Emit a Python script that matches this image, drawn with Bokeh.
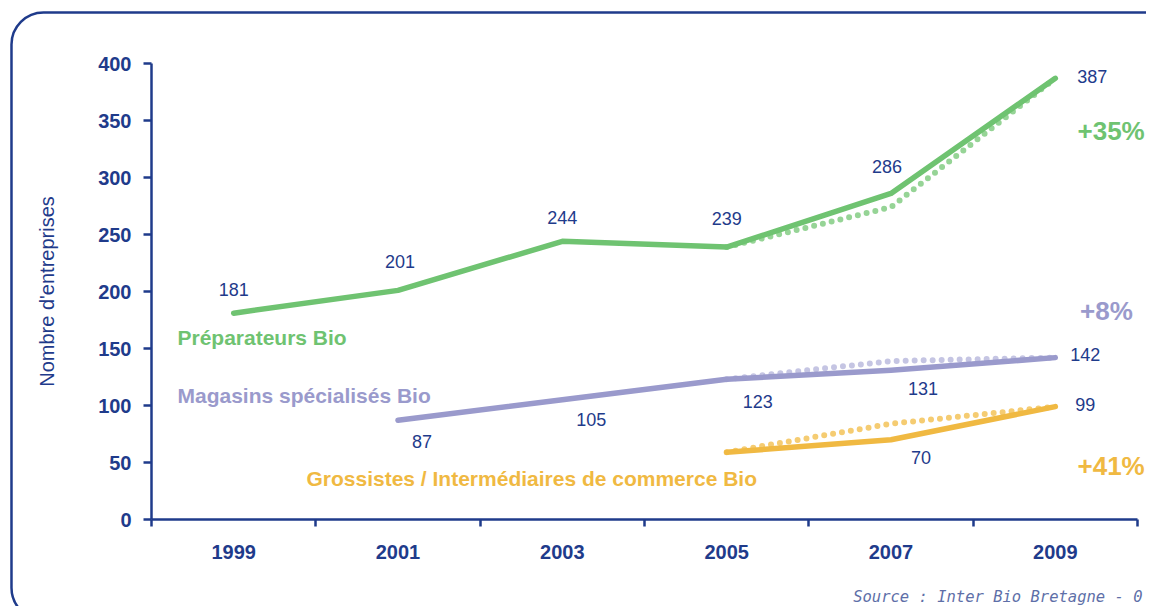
from bokeh.plotting import figure
from bokeh.models import (Range1d, FixedTicker, ColumnDataSource, Label, BoxAnnotation)
from bokeh.core.properties import value
from bokeh.embed import file_html
from bokeh.resources import INLINE

# ---------------- data ----------------
years = ["1999", "2001", "2003", "2005", "2007", "2009"]

prep_years = ["1999", "2001", "2003", "2005", "2007", "2009"]
prep_values = [181, 201, 244, 239, 286, 387]
prep_trend_years = ["2005", "2007", "2009"]
prep_trend_values = [239, 274, 387]

mag_years = ["2001", "2003", "2005", "2007", "2009"]
mag_values = [87, 105, 123, 131, 142]
mag_trend_years = ["2005", "2007", "2009"]
mag_trend_values = [123, 139, 142]

gros_years = ["2005", "2007", "2009"]
gros_values = [59, 70, 99]
gros_labels = ["", "70", "99"]
gros_trend_years = ["2005", "2007", "2009"]
gros_trend_values = [59, 84, 99]

y_ticks = [0, 50, 100, 150, 200, 250, 300, 350, 400]

# label offsets in pixels (dx, dy; dy positive = downwards)
prep_off_x = [0, 2, 0, 0, -4, 37]
prep_off_y = [-24, -29, -24, -29, -27, -2]
mag_off_x = [24, 29, 31, 32, 30]
mag_off_y = [21, 20, 22, 18, -3]
gros_off_x = [0, 30, 30]
gros_off_y = [0, 18, -2]

# ---------------- styles ----------------
NAVY = "#1F3B8B"
GREEN = "#6FC371"
GREEN_L = "#96D496"
PURPLE = "#9A9ACC"
PURPLE_L = "#C5C5E3"
YELLOW = "#F0B942"
YELLOW_L = "#F5CC72"
FONT = "Liberation Sans"

W, H = 1146, 606
PX_X = 164.333   # pixels per category
PX_Y = 1.14      # pixels per unit
x0 = -151 / PX_X
y0 = -(606 - 519) / PX_Y


def xpos(ys):
    return [years.index(y) + 0.5 for y in ys]


p = figure(width=W, height=H,
           min_border_left=0, min_border_right=0,
           min_border_top=0, min_border_bottom=0,
           x_range=Range1d(x0, x0 + W / PX_X),
           y_range=Range1d(y0, y0 + H / PX_Y),
           output_backend="svg", toolbar_location=None,
           background_fill_color="white", border_fill_color="white")
p.outline_line_color = None
p.xgrid.visible = False
p.ygrid.visible = False

# rounded frame decoration
box = BoxAnnotation(left=-0.852, right=7.5, top=444.7, bottom=-88.0,
                    fill_alpha=0, line_color=NAVY, line_alpha=1.0, line_width=2.5,
                    border_radius=32, level="annotation")
p.add_layout(box)

# axes
xa = p.xaxis[0]
xa.fixed_location = 0
xa.bounds = (0, len(years))
xa.ticker = FixedTicker(ticks=[i + 0.5 for i in range(len(years))],
                        minor_ticks=list(range(len(years) + 1)))
xa.major_label_overrides = {i + 0.5: y for i, y in enumerate(years)}
xa.major_tick_out = 0
xa.major_tick_in = 0
xa.minor_tick_out = 7
xa.minor_tick_in = 0
xa.minor_tick_line_color = NAVY
xa.minor_tick_line_width = 2.5
xa.axis_line_color = NAVY
xa.axis_line_width = 2.5
xa.major_label_text_font = FONT
xa.major_label_text_font_style = "bold"
xa.major_label_text_font_size = "20px"
xa.major_label_text_color = NAVY
xa.major_label_standoff = 18

ya = p.yaxis[0]
ya.fixed_location = 0
ya.bounds = (0, 400)
ya.ticker = FixedTicker(ticks=y_ticks)
ya.major_tick_out = 8
ya.major_tick_in = 0
ya.minor_tick_out = 0
ya.minor_tick_in = 0
ya.major_tick_line_color = NAVY
ya.major_tick_line_width = 2.5
ya.axis_line_color = NAVY
ya.axis_line_width = 2.5
ya.major_label_text_font = FONT
ya.major_label_text_font_style = "bold"
ya.major_label_text_font_size = "20px"
ya.major_label_text_color = NAVY
ya.major_label_standoff = 12
ya.axis_label = "Nombre d'entreprises"
ya.axis_label_text_font = FONT
ya.axis_label_text_font_style = "normal"
ya.axis_label_text_font_size = "20px"
ya.axis_label_text_color = NAVY
ya.axis_label_standoff = 37

# trend (dotted) lines
for ys, vs, c in [(prep_trend_years, prep_trend_values, GREEN_L),
                  (mag_trend_years, mag_trend_values, PURPLE_L),
                  (gros_trend_years, gros_trend_values, YELLOW_L)]:
    p.line(xpos(ys), vs, line_color=c, line_width=6, line_dash="0 9",
           line_cap="round", line_join="round")

# solid lines
for ys, vs, c in [(prep_years, prep_values, GREEN),
                  (mag_years, mag_values, PURPLE),
                  (gros_years, gros_values, YELLOW)]:
    p.line(xpos(ys), vs, line_color=c, line_width=5.5,
           line_cap="round", line_join="round")

# value labels
for ys, vs, labs, ox, oy in [
        (prep_years, prep_values, [str(v) for v in prep_values], prep_off_x, prep_off_y),
        (mag_years, mag_values, [str(v) for v in mag_values], mag_off_x, mag_off_y),
        (gros_years, gros_values, gros_labels, gros_off_x, gros_off_y)]:
    src = ColumnDataSource(dict(x=xpos(ys), y=vs, t=labs, ox=ox, oy=oy))
    p.text(x="x", y="y", text="t", x_offset="ox", y_offset="oy", source=src,
           text_font=value(FONT), text_font_size="18px", text_color=NAVY,
           text_align="center", text_baseline="middle")

# series names and growth rates
notes = [
    ("Préparateurs Bio", 0.158, 159.6, GREEN, "21px", FONT, "bold"),
    ("Magasins spécialisés Bio", 0.158, 108.8, PURPLE, "21px", FONT, "bold"),
    ("Grossistes / Intermédiaires de commerce Bio", 0.943, 36.0, YELLOW, "21px", FONT, "bold"),
    ("+35%", 5.635, 341.0, GREEN, "26px", FONT, "bold"),
    ("+8%", 5.650, 182.5, PURPLE, "26px", FONT, "bold"),
    ("+41%", 5.635, 46.5, YELLOW, "26px", FONT, "bold"),
    ("Source : Inter Bio Bretagne - 0", 4.27, -68.4, "#5E6FA8", "15.5px", "DejaVu Sans Mono", "italic"),
]
for t, x, y, c, s, f, st in notes:
    p.add_layout(Label(x=x, y=y, text=t, text_color=c, text_font_size=s,
                       text_font=f, text_font_style=st,
                       text_align="left", text_baseline="middle"))

open("out.html", "w").write(file_html(p, INLINE))
